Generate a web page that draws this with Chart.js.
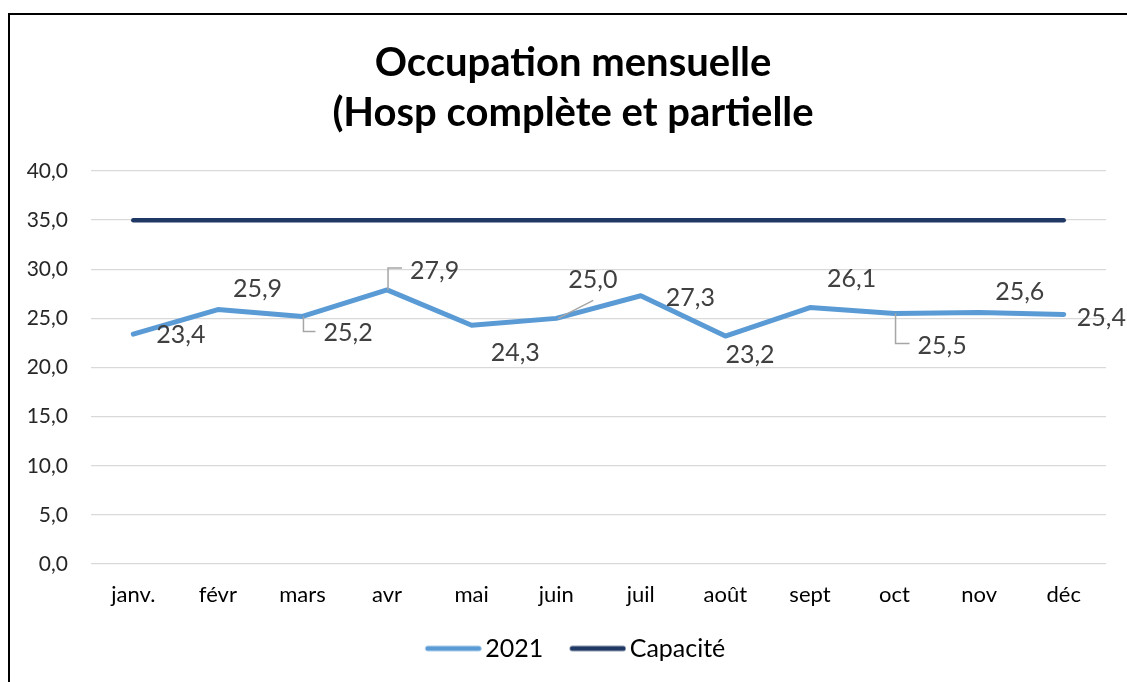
<!DOCTYPE html>
<html>
<head>
<meta charset="utf-8">
<script src="https://cdn.jsdelivr.net/npm/chart.js@4.4.0/dist/chart.umd.min.js"></script>
<style>
  html, body { margin: 0; padding: 0; background: #fff; overflow: hidden; }
  #box { position: absolute; left: 8px; top: 13px; width: 1126px; height: 720px; border: 2px solid #000; }
  canvas { display: block; }
</style>
</head>
<body>
<div id="box"><canvas id="chart" width="1126" height="676"></canvas></div>
<script>
// Data
const months = ['janv.', 'févr', 'mars', 'avr', 'mai', 'juin', 'juil', 'août', 'sept', 'oct', 'nov', 'déc'];
const occupation2021 = [23.4, 25.9, 25.2, 27.9, 24.3, 25.0, 27.3, 23.2, 26.1, 25.5, 25.6, 25.4];
const capacite = [35, 35, 35, 35, 35, 35, 35, 35, 35, 35, 35, 35];
const yMin = 0;
const yMax = 40;
const yStep = 5;

const FONT = 'Lato';
const frComma = v => Number(v).toFixed(1).replace('.', ',');

// label placement, like the hand-moved labels in the original (left edge dx, middle dy)
const labelShift = [[23, 1], [15, -21], [21, 17], [23, -19], [19, 28], [12, -38], [25, 2], [0, 19], [17, -29], [23, 32], [16, -21], [13, 3]];
const leaders = { 2: 'elbow', 3: 'elbow', 5: 'diag', 9: 'elbow' };

const dataLabels = {
  id: 'dataLabels',
  afterDatasetsDraw(chart) {
    const ctx = chart.ctx;
    const meta = chart.getDatasetMeta(0);
    ctx.save();
    ctx.font = '25px ' + FONT;
    ctx.textAlign = 'left';
    ctx.textBaseline = 'middle';
    meta.data.forEach((pt, i) => {
      const tx = pt.x + labelShift[i][0];
      const ty = pt.y + labelShift[i][1];
      const kind = leaders[i];
      if (kind) {
        ctx.strokeStyle = '#a6a6a6';
        ctx.lineWidth = 1.5;
        ctx.beginPath();
        if (kind === 'elbow') {
          const ly = ty + (ty > pt.y ? -2 : -3);
          ctx.moveTo(pt.x + 1, pt.y);
          ctx.lineTo(pt.x + 1, ly);
          ctx.lineTo(tx - 8, ly);
        } else {
          ctx.moveTo(pt.x + 2, pt.y);
          ctx.lineTo(tx + 25, ty + 20);
        }
        ctx.stroke();
      }
      ctx.fillStyle = '#404040';
      ctx.fillText(frComma(occupation2021[i]), tx, ty);
    });
    ctx.restore();
  }
};

// the swatch image leaves blank space on its left, pull the legend back a bit
const legendNudge = {
  id: 'legendNudge',
  afterLayout(chart) {
    if (chart.legend) {
      chart.legend.left -= 6;
      chart.legend.right -= 6;
    }
  }
};

// legend swatch: 56px rounded line placed at the right of a wider image,
// so it sits just before its text and leaves a gap after the previous item
function legendSwatch(color, width) {
  const c = document.createElement('canvas');
  c.width = 82;
  c.height = 10;
  const g = c.getContext('2d');
  g.strokeStyle = color;
  g.lineWidth = width;
  g.lineCap = 'round';
  g.beginPath();
  g.moveTo(28, 5);
  g.lineTo(79, 5);
  g.stroke();
  return c;
}

new Chart(document.getElementById('chart'), {
  type: 'line',
  data: {
    labels: months,
    datasets: [{
      label: '2021',
      data: occupation2021,
      borderColor: '#5b9bd5',
      backgroundColor: '#5b9bd5',
      borderWidth: 5,
      borderCapStyle: 'round',
      borderJoinStyle: 'round',
      pointRadius: 0,
      tension: 0
    }, {
      label: 'Capacité',
      data: capacite,
      borderColor: '#203864',
      backgroundColor: '#203864',
      borderWidth: 4.5,
      borderCapStyle: 'round',
      pointRadius: 0,
      tension: 0
    }]
  },
  options: {
    responsive: false,
    animation: false,
    layout: { padding: { left: 0, right: 0, top: 0, bottom: 20 } },
    plugins: {
      title: {
        display: true,
        text: ['Occupation mensuelle', '(Hosp complète et partielle'],
        color: '#000',
        font: { family: FONT, size: 40, weight: 'bold', lineHeight: 1.25 },
        padding: { top: 23, bottom: 33 }
      },
      legend: {
        position: 'bottom',
        labels: {
          usePointStyle: true,
          pointStyleWidth: 64,
          color: '#000',
          font: { family: FONT, size: 25 },
          padding: 10,
          generateLabels(chart) {
            const items = Chart.defaults.plugins.legend.labels.generateLabels(chart);
            items.forEach(it => { it.pointStyle = legendSwatch(it.strokeStyle, 5); });
            return items;
          }
        }
      },
      tooltip: { enabled: false }
    },
    scales: {
      x: {
        offset: true,
        grid: { display: false, offset: true },
        border: { display: false },
        ticks: { color: '#000', font: { family: FONT, size: 22 }, padding: 10 },
        afterFit(s) { s.height = 62; }
      },
      y: {
        min: yMin,
        max: yMax,
        ticks: { stepSize: yStep, color: '#262626', font: { family: FONT, size: 21 }, padding: 23, callback: v => frComma(v) },
        grid: { color: '#d9d9d9', lineWidth: 1.3, drawTicks: false },
        border: { display: false },
        afterFit(s) { s.width = 81; }
      },
      // empty right-hand strip so the plot stops short of the frame
      yRight: {
        position: 'right',
        min: yMin,
        max: yMax,
        grid: { display: false },
        border: { display: false },
        ticks: { display: false },
        afterFit(s) { s.width = 30; }
      }
    }
  },
  plugins: [dataLabels, legendNudge]
});
</script>
</body>
</html>
